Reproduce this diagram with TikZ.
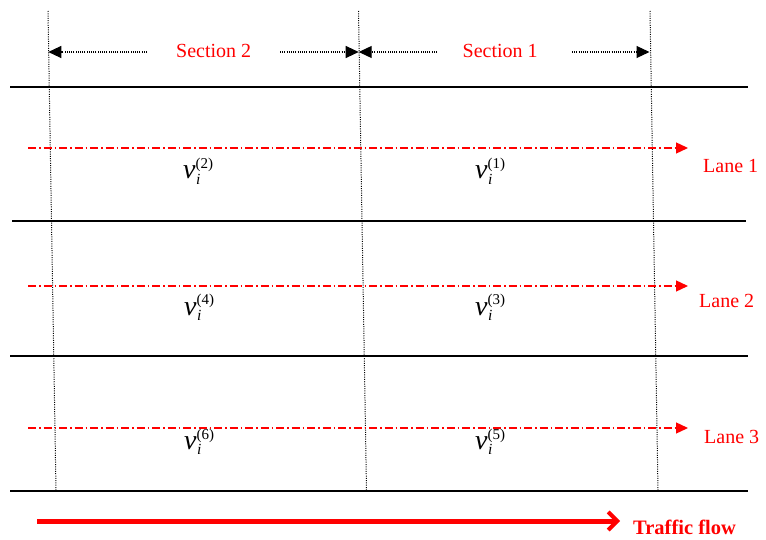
\documentclass[tikz,border=0pt]{standalone}
\usepackage{fontspec}
\setmainfont{Liberation Serif}
\usetikzlibrary{arrows.meta}
\newcommand{\vlab}[1]{\fontsize{28}{28}\selectfont\textit{v}\rlap{\raisebox{-5.5pt}{\fontsize{15.5}{15.5}\selectfont\kern0.5pt\textit{i}}}\raisebox{10pt}{\fontsize{15}{15}\selectfont(#1)}}
\tikzset{
  x=1pt, y=-1pt,
  road/.style={line width=2.4pt, black},
  secline/.style={line width=1pt, black, dash pattern=on 1pt off 1.3pt},
  secarrow/.style={line width=1.1pt, black, dash pattern=on 1pt off 1.2pt, -{Triangle[length=13pt,width=12pt]}},
  lanearrow/.style={line width=1.3pt, red, dash pattern=on 8pt off 3pt on 1.5pt off 3pt, -{Triangle[length=12pt,width=11pt]}},
  flowarrow/.style={line width=5pt, red, -{Straight Barb[length=9pt,width=18pt,line width=4pt]}},
  redtxt/.style={red, inner sep=0pt, anchor=base west, font=\fontsize{20}{20}\selectfont},
  vtxt/.style={inner sep=0pt, anchor=base west}
}
\begin{document}
\begin{tikzpicture}
\useasboundingbox (0,0) rectangle (766,540);
% road lines
\coordinate (r1a) at (10,87);  \coordinate (r1b) at (748,87);
\coordinate (r2a) at (12,221); \coordinate (r2b) at (746,221);
\coordinate (r3a) at (10,356); \coordinate (r3b) at (748,356);
\coordinate (r4a) at (10,491); \coordinate (r4b) at (748,491);
\draw[road] (r1a) -- (r1b);
\draw[road] (r2a) -- (r2b);
\draw[road] (r3a) -- (r3b);
\draw[road] (r4a) -- (r4b);
% section boundaries
\coordinate (s0t) at (48,11);  \coordinate (s0b) at (56,490);
\coordinate (s1t) at (358.5,11); \coordinate (s1b) at (366.5,490);
\coordinate (s2t) at (650,11); \coordinate (s2b) at (658,490);
\draw[secline] (s0t) -- (s0b);
\draw[secline] (s1t) -- (s1b);
\draw[secline] (s2t) -- (s2b);
% section arrows
\coordinate (aL) at (48.3,52);
\coordinate (aM) at (358.7,52);
\coordinate (aR) at (649.5,52);
\coordinate (a2l) at (147,52); \coordinate (a2r) at (280,52);
\coordinate (a1l) at (437,52); \coordinate (a1r) at (572,52);
\draw[secarrow] (a2l) -- (aL);
\draw[secarrow] (a2r) -- (aM);
\draw[secarrow] (a1l) -- (aM);
\draw[secarrow] (a1r) -- (aR);
\node[redtxt] (sec2) at (176,58) {Section 2};
\node[redtxt] (sec1) at (462.5,58) {Section 1};
% lane arrows
\coordinate (l1a) at (28,148); \coordinate (l1b) at (688,148);
\coordinate (l2a) at (28,286); \coordinate (l2b) at (688,286);
\coordinate (l3a) at (28,428); \coordinate (l3b) at (688,428);
\draw[lanearrow] (l1a) -- (l1b);
\draw[lanearrow] (l2a) -- (l2b);
\draw[lanearrow] (l3a) -- (l3b);
\node[redtxt] (lane1) at (703,173) {Lane 1};
\node[redtxt] (lane2) at (699,307) {Lane 2};
\node[redtxt] (lane3) at (704,443) {Lane 3};
% velocity labels
\node[vtxt] (v2) at (183,179) {\vlab{2}};
\node[vtxt] (v1) at (475,179) {\vlab{1}};
\node[vtxt] (v4) at (184,315) {\vlab{4}};
\node[vtxt] (v3) at (475,315) {\vlab{3}};
\node[vtxt] (v6) at (184,449) {\vlab{6}};
\node[vtxt] (v5) at (475,449) {\vlab{5}};
% traffic flow
\coordinate (fa) at (37,521); \coordinate (fb) at (620,521);
\draw[flowarrow] (fa) -- (fb);
\node[red, inner sep=0pt, anchor=base west, font=\fontsize{20.5}{20.5}\selectfont\bfseries] (flow) at (633,534) {Traffic flow};
\end{tikzpicture}
\end{document}
